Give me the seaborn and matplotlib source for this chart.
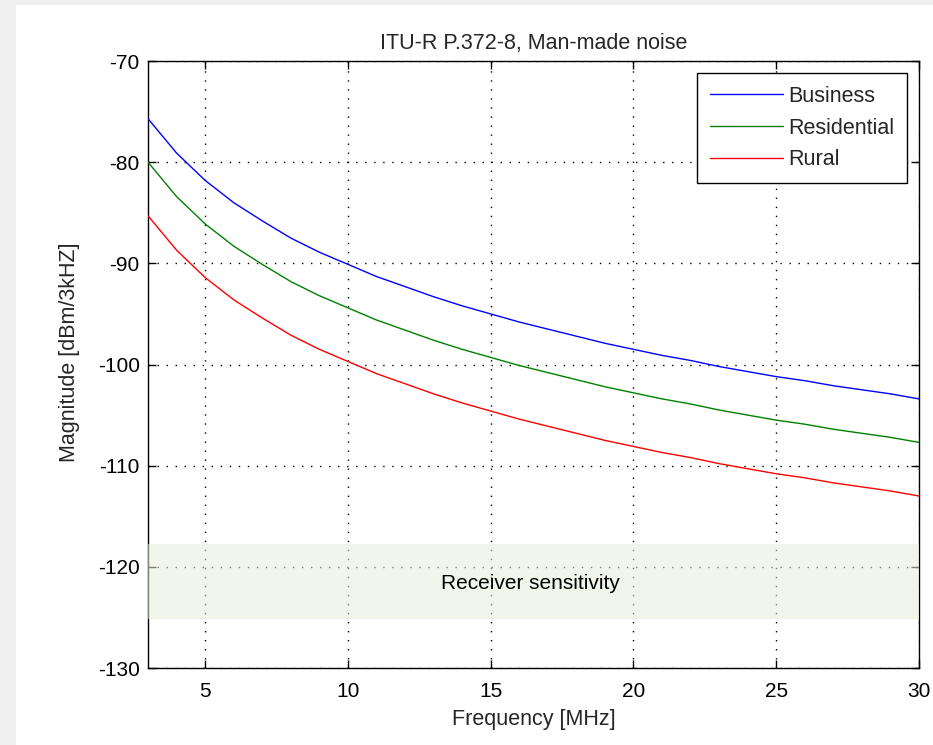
import matplotlib
matplotlib.use("Agg")
import matplotlib.pyplot as plt
from matplotlib.patches import Rectangle
import seaborn as sns
import pandas as pd

freq_mhz = list(range(3, 31))
business = [-75.7, -79.1, -81.8, -84.0, -85.8, -87.5, -88.9, -90.1, -91.3, -92.3,
            -93.3, -94.2, -95.0, -95.8, -96.5, -97.2, -97.9, -98.5, -99.1, -99.6,
            -100.2, -100.7, -101.2, -101.6, -102.1, -102.5, -102.9, -103.4]
residential = [-80.0, -83.4, -86.1, -88.3, -90.1, -91.8, -93.2, -94.4, -95.6, -96.6,
               -97.6, -98.5, -99.3, -100.1, -100.8, -101.5, -102.2, -102.8, -103.4, -103.9,
               -104.5, -105.0, -105.5, -105.9, -106.4, -106.8, -107.2, -107.7]
rural = [-85.3, -88.7, -91.4, -93.6, -95.4, -97.1, -98.5, -99.7, -100.9, -101.9,
         -102.9, -103.8, -104.6, -105.4, -106.1, -106.8, -107.5, -108.1, -108.7, -109.2,
         -109.8, -110.3, -110.8, -111.2, -111.7, -112.1, -112.5, -113.0]
series_names = ["Business", "Residential", "Rural"]
series_colors = ["#0000ff", "#008000", "#ff0000"]
band_low, band_high = -125.2, -117.7
band_label = "Receiver sensitivity"
xticks = [5, 10, 15, 20, 25, 30]
yticks = [-130, -120, -110, -100, -90, -80, -70]

sns.set_theme(style="white")
fam = ["Liberation Sans", "DejaVu Sans"]
plt.rcParams["font.family"] = fam

df = pd.DataFrame({
    "freq": freq_mhz * 3,
    "value": business + residential + rural,
    "series": [n for n in series_names for _ in freq_mhz],
})

fig = plt.figure(figsize=(9.33, 7.45), dpi=100)
fig.patch.set_facecolor("#f0f0f0")
fig.patches.append(Rectangle((16 / 933, 0), 1 - 16 / 933, 1 - 5 / 745,
                             transform=fig.transFigure, facecolor="white",
                             edgecolor="none", zorder=-10))
ax = fig.add_axes([148 / 933, 1 - 668 / 745, (919 - 148) / 933, (668 - 61) / 745])
ax.set_zorder(1)
ax.set_facecolor("white")

sns.lineplot(data=df, x="freq", y="value", hue="series", hue_order=series_names,
             palette=series_colors, linewidth=1.0, ax=ax, zorder=4)

ax.axhspan(band_low, band_high, facecolor="#e8edda", alpha=0.55, edgecolor="none", zorder=3)
ax.text(16.4, -121.6, band_label, ha="center", va="center", fontsize=15,
        color="black", zorder=5)

ax.set_xlim(3, 30)
ax.set_ylim(-130, -70)
ax.set_xticks(xticks)
ax.set_yticks(yticks)
ax.set_xticklabels([str(t) for t in xticks], fontsize=15)
ax.set_yticklabels([str(t) for t in yticks], fontsize=15)
ax.grid(True, color="black", linestyle=(0, (1, 5.5)), linewidth=1.0)
ax.tick_params(direction="in", length=6, width=1, top=True, right=True, bottom=True, left=True,
               colors="black")
ax.tick_params(axis="x", pad=10)
ax.tick_params(axis="y", pad=6)
for s in ax.spines.values():
    s.set_visible(True)
    s.set_color("black")
    s.set_linewidth(1.0)
    s.set_zorder(2.5)

ax.set_title("ITU-R P.372-8, Man-made noise", fontsize=15.5, pad=9)
ax.set_xlabel("Frequency [MHz]", fontsize=15.5, labelpad=6)
ax.set_ylabel("Magnitude [dBm/3kHZ]", fontsize=15.5, labelpad=10)
ax.yaxis.set_label_coords(-0.088, 0.52)

leg = ax.legend(loc="upper right", fontsize=15.5, frameon=True, fancybox=False,
                handlelength=3.4, handletextpad=0.25, borderpad=0.6, labelspacing=0.5,
                borderaxespad=0.55, title=None)
leg.get_frame().set_edgecolor("black")
leg.get_frame().set_linewidth(1.0)
leg.get_frame().set_alpha(1)

fig.savefig("out.png", dpi=100, facecolor=fig.get_facecolor())
